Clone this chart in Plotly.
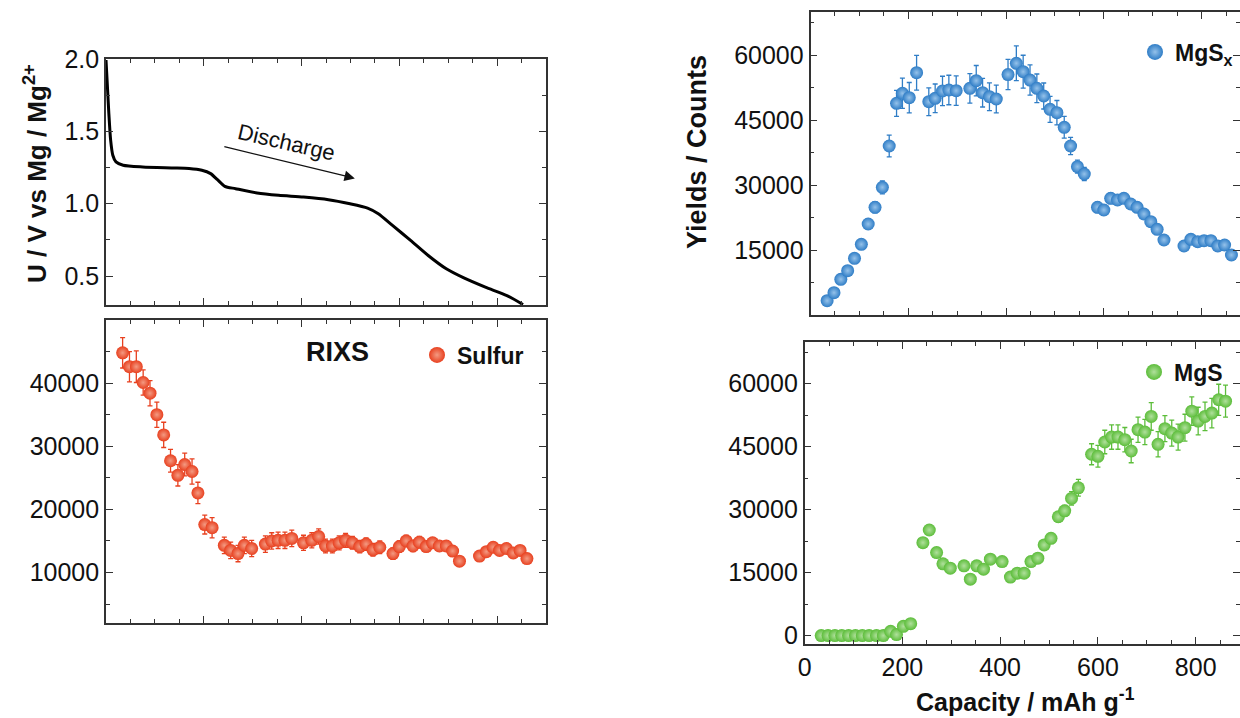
import plotly.graph_objects as go

FONT = "Liberation Sans, Arial, sans-serif"
INK = "#333333"

# ---- discharge profile (capacity in mAh/g, potential in V) ----
volt_cap = [0, 2.2, 5.8, 9.5, 13.9, 20.4, 35, 75, 134, 170, 196, 214, 228, 243, 265,
            309, 353, 404, 455, 499, 535, 557, 586, 623, 659, 696, 732, 776, 820, 853]
volt_u = [1.993, 1.855, 1.624, 1.439, 1.335, 1.289, 1.266, 1.254, 1.247, 1.243, 1.231,
          1.208, 1.166, 1.120, 1.104, 1.074, 1.058, 1.046, 1.028, 1.000, 0.970, 0.931,
          0.850, 0.746, 0.642, 0.550, 0.487, 0.423, 0.365, 0.303]

# ---- RIXS yields along the discharge ----
cap_a = [34, 48, 62, 76, 90, 104, 118, 132, 147, 161, 176, 188, 202, 217,
         242, 255, 270, 283, 298, 326, 339, 352, 366, 380,
         404, 421, 435, 449, 463, 477, 490, 504, 519, 532, 546, 560,
         587, 600, 614, 628, 641, 655, 668, 682, 696, 709, 723,
         764, 778, 792, 805, 819, 833, 847, 861]
cap_b = [34, 48, 62, 76, 90, 104, 118, 132, 147, 161, 176, 188, 202, 217,
         242, 255, 270, 283, 298, 326, 339, 352, 366, 380,
         404, 421, 435, 449, 463, 477, 490, 504, 519, 532, 546, 560,
         587, 600, 614, 628, 641, 655, 668, 682, 696, 709, 723, 737, 751,
         764, 778, 792, 805, 819, 833, 847, 861]

sulfur = [44800, 42600, 42600, 40100, 38400, 35000, 31800, 27700, 25400, 27100, 26000, 22600, 17600, 17100,
          14300, 13500, 13000, 14300, 13800, 14500, 15000, 15100, 15100, 15400,
          14700, 15100, 15700, 14200, 14200, 14700, 15100, 14700, 14100, 14500, 13600, 14000,
          13000, 14100, 15000, 14200, 14800, 14100, 14700, 14200, 14200, 13400, 11800,
          12600, 13300, 14000, 13500, 13800, 13100, 13500, 12200]
sulfur_err = [2400, 2400, 2500, 2000, 2000, 2000, 2000, 1800, 1700, 1800, 2000, 1700, 1500, 1600,
              1300, 1300, 1300, 1300, 1300, 1300, 1300, 1300, 1300, 1300,
              1200, 1200, 1200, 1100, 1100, 1100, 1100, 1000, 1000, 1000, 1000, 1000,
              900, 900, 900, 900, 900, 800, 800, 800, 800, 800, 700,
              600, 600, 600, 600, 600, 600, 600, 500]

mgsx = [3300, 5150, 8240, 10230, 13080, 16310, 21000, 24860, 29470, 39000, 48860, 51170, 50160, 55920,
        49230, 50010, 51700, 51930, 51770, 52320, 54080, 51310, 50380, 49850,
        55500, 58090, 56150, 54230, 52320, 50540, 47470, 46700, 43320, 39000, 34230, 32540,
        24860, 24230, 26930, 26540, 26930, 25620, 24860, 23310, 21530, 19780, 17310,
        15920, 17470, 16920, 17150, 17150, 15920, 16160, 13850]
mgsx_err = [600, 700, 800, 900, 900, 1000, 1100, 1300, 1500, 2500, 3000, 3500, 3500, 4000,
            3200, 3300, 3400, 3400, 3400, 3400, 3500, 3300, 3200, 3200,
            3500, 4000, 3800, 3500, 3300, 3000, 3000, 2800, 2500, 2000, 1500, 1500,
            1200, 1200, 1200, 1100, 1100, 1000, 1000, 1000, 900, 900, 800,
            700, 700, 700, 700, 700, 600, 600, 600]

mgs = [0, 0, 0, 0, 0, 0, 0, 0, 0, 0, 1020, 240, 2210, 2850,
       22140, 25150, 19770, 17090, 16060, 16610, 13450, 16610, 15820, 18200,
       17630, 13930, 14880, 14880, 17630, 18440, 21590, 23180, 28310, 29730, 32670, 35200,
       43190, 42710, 46110, 47290, 47290, 46670, 43970, 49040, 48480, 52210, 45560, 49280, 48240,
       47290, 49520, 53460, 51090, 52210, 52990, 56170, 55840]
mgs_err = [200, 200, 200, 200, 200, 200, 200, 200, 200, 200, 300, 300, 400, 400,
           700, 800, 700, 600, 600, 600, 600, 600, 600, 700,
           700, 600, 600, 600, 700, 700, 800, 900, 1200, 1300, 1600, 2000,
           2500, 2600, 2800, 2900, 2900, 2900, 2800, 3000, 3000, 3300, 3000, 3100, 3100,
           3100, 3200, 3400, 3300, 3400, 3500, 3700, 3800]

RED, RED_HI = "#e8401f", "#f39a82"
BLUE, BLUE_HI = "#2f7dc6", "#95c2ea"
GREEN, GREEN_HI = "#5cbd3a", "#b0e09c"


def balls(x, y, err, color, light, xa, ya):
    return go.Scatter(
        x=x, y=y, mode="markers", xaxis=xa, yaxis=ya, showlegend=False,
        marker=dict(size=13, color=color, gradient=dict(type="radial", color=light),
                    line=dict(width=0)),
        error_y=dict(type="data", array=err, visible=True, color=color,
                     thickness=1.3, width=2.5),
    )


def key(name, color, light, legend):
    return go.Scatter(
        x=[None], y=[None], mode="markers", name=name, legend=legend,
        marker=dict(size=16, color=color, gradient=dict(type="radial", color=light),
                    line=dict(width=0)),
    )


fig = go.Figure()
fig.add_trace(go.Scatter(x=volt_cap, y=volt_u, mode="lines", xaxis="x", yaxis="y",
                         showlegend=False,
                         line=dict(color="black", width=3, shape="spline", smoothing=0.7)))
fig.add_trace(balls(cap_a, sulfur, sulfur_err, RED, RED_HI, "x2", "y2"))
fig.add_trace(balls(cap_a, mgsx, mgsx_err, BLUE, BLUE_HI, "x3", "y3"))
fig.add_trace(balls(cap_b, mgs, mgs_err, GREEN, GREEN_HI, "x4", "y4"))
fig.add_trace(key("<b>Sulfur</b>", RED, RED_HI, "legend"))
fig.add_trace(key("<b>MgS<sub>x</sub></b>", BLUE, BLUE_HI, "legend2"))
fig.add_trace(key("<b>MgS</b>", GREEN, GREEN_HI, "legend3"))

W, H = 1240, 718


def px_x(a, b):
    return [a / W, min(b / W, 1.0)]


def px_y(top, bottom):
    return [1 - bottom / H, 1 - top / H]


tickfont = dict(family=FONT, size=25, color="#111111")


def xax(domain, rng, anchor, labels=False):
    return dict(domain=domain, range=rng, anchor=anchor, showline=True, linecolor=INK,
                linewidth=1.6, mirror="ticks", ticks="inside", ticklen=7, tickwidth=1.3,
                tickcolor=INK, tick0=0, dtick=200, showticklabels=labels, tickfont=tickfont,
                showgrid=False, zeroline=False,
                minor=dict(ticks="inside", ticklen=4, tickwidth=1.1, tickcolor=INK,
                           tick0=0, dtick=50, showgrid=False))


def yax(domain, rng, anchor, tickvals, minor_dtick, fmt="d"):
    return dict(domain=domain, range=rng, anchor=anchor, showline=True, linecolor=INK,
                linewidth=1.6, mirror="ticks", ticks="inside", ticklen=7, tickwidth=1.3,
                tickcolor=INK, tickmode="array", tickvals=tickvals, tickfont=tickfont,
                tickformat=fmt, showgrid=False, zeroline=False,
                minor=dict(ticks="inside", ticklen=4, tickwidth=1.1, tickcolor=INK,
                           tick0=0, dtick=minor_dtick, showgrid=False))


fig.update_layout(
    width=W, height=H, margin=dict(l=0, r=0, t=0, b=0, autoexpand=False),
    paper_bgcolor="white", plot_bgcolor="white",
    font=dict(family=FONT, color="#111111"),
    xaxis=xax(px_x(106, 546), [0, 900], "y"),
    yaxis=yax(px_y(59, 305), [0.3, 2.0], "x", [0.5, 1.0, 1.5, 2.0], 0.25, ".1f"),
    xaxis2=xax(px_x(106, 546), [0, 900], "y2"),
    yaxis2=yax(px_y(320, 623), [2000, 50000], "x2", [10000, 20000, 30000, 40000], 5000),
    xaxis3=xax(px_x(810.5, 1240), [0, (1240 - 810.5) / 0.4889], "y3"),
    yaxis3=yax(px_y(11.7, 315), [0, 70000], "x3", [15000, 30000, 45000, 60000], 7500),
    xaxis4=xax(px_x(804.6, 1240), [0, (1240 - 804.6) / 0.4889], "y4", labels=True),
    yaxis4=yax(px_y(341.7, 644), [-2000, 70000], "x4", [0, 15000, 30000, 45000, 60000], 7500),
)

legend_style = dict(xanchor="left", yanchor="middle", bgcolor="rgba(0,0,0,0)",
                    borderwidth=0, font=dict(family=FONT, size=23, color="#111111"),
                    itemsizing="trace")
fig.update_layout(
    legend=dict(x=(437 - 20) / W, y=1 - 355 / H, **legend_style),
    legend2=dict(x=(1155 - 20) / W, y=1 - 52 / H, **legend_style),
    legend3=dict(x=(1154 - 20) / W, y=1 - 372 / H, **legend_style),
)


def label(text, x, y, size, angle=0):
    return dict(text=text, x=x / W, y=1 - y / H, xref="paper", yref="paper",
                xanchor="center", yanchor="middle", textangle=angle, showarrow=False,
                font=dict(family=FONT, size=size, color="#111111"))


ann = [
    label("<b>RIXS</b>", 337, 352, 27),
    label("<b>U / V vs Mg / Mg<sup>2+</sup></b>", 35, 174, 26, -90),
    label("<b>Yields / Counts</b>", 697, 152, 27, -90),
    label("<b>Capacity / mAh g<sup>-1</sup></b>", 1025, 700, 25),
    dict(text="Discharge", x=370, y=1.425, xref="x", yref="y", textangle=13,
         xanchor="center", yanchor="middle",
         showarrow=False, font=dict(family=FONT, size=22, color="#111111")),
    dict(text="", x=509, y=1.175, ax=239, ay=1.397, xref="x", yref="y",
         axref="x", ayref="y", showarrow=True, arrowhead=2, arrowsize=1.6,
         arrowwidth=1.3, arrowcolor="#111111"),
]
fig.update_layout(annotations=ann)

fig.write_html("out.html")
